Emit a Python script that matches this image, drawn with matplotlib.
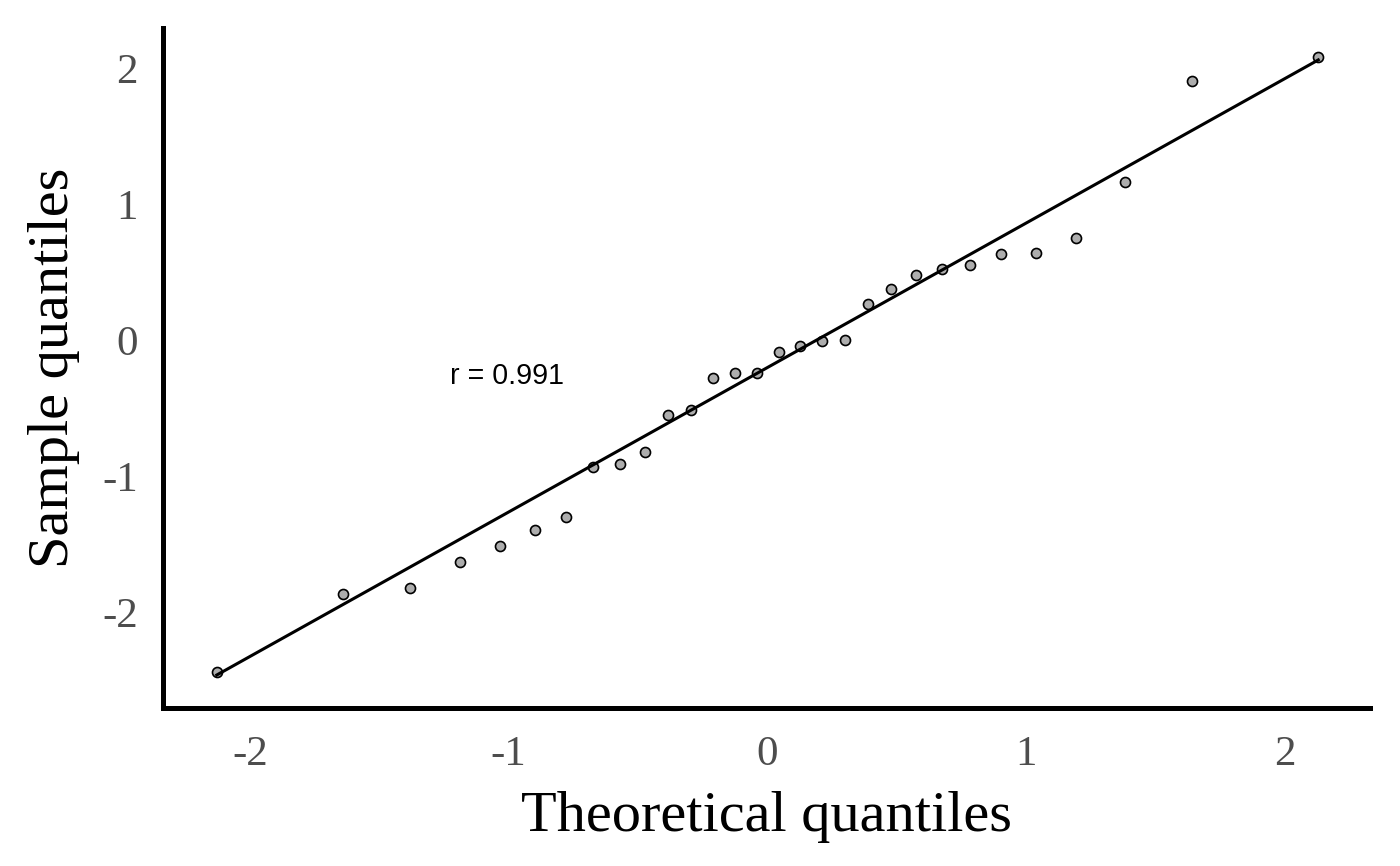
"""
Q-Q plot of sample quantiles against theoretical normal quantiles.
"""

import matplotlib
matplotlib.use("Agg")
import matplotlib.pyplot as plt
import numpy as np

# values
theoretical = [
    -2.128, -1.641, -1.382, -1.188, -1.034, -0.899, -0.779, -0.674,
    -0.570, -0.473, -0.385, -0.296, -0.211, -0.126, -0.041, 0.044,
    0.126, 0.211, 0.300, 0.389, 0.477, 0.574, 0.675, 0.783,
    0.902, 1.038, 1.192, 1.382, 1.641, 2.128,
]
sample = [
    -2.44, -1.868, -1.824, -1.632, -1.515, -1.397, -1.301, -0.934,
    -0.912, -0.824, -0.551, -0.515, -0.279, -0.243, -0.243, -0.088,
    -0.044, -0.007, 0.0, 0.265, 0.375, 0.478, 0.522, 0.551,
    0.632, 0.640, 0.750, 1.162, 1.904, 2.081,
]
# fitted reference line
fit_slope = 1.0625
fit_intercept = -0.202

x_ticks = [-2, -1, 0, 1, 2]
y_ticks = [-2, -1, 0, 1, 2]
r_label = "r = 0.991"

SERIF = ["Liberation Serif", "DejaVu Serif"]

plt.rcParams["axes.unicode_minus"] = False


def main():

    x = np.array(theoretical)
    y = np.array(sample)

    fig = plt.figure(figsize=(7, 4.33), dpi=200)
    ax = fig.add_axes([0.1164, 0.1824, 0.8622, 0.7853])

    #
    # points
    #

    ax.scatter(
        x,
        y,
        s=13,
        c="#adadad",
        edgecolors="black",
        linewidths=0.6,
        zorder=2,
    )

    #
    # fit line
    #

    line_x = np.array([x.min(), x.max()])
    ax.plot(
        line_x,
        fit_slope * line_x + fit_intercept,
        color="black",
        lw=1.1,
        zorder=3,
    )

    ax.text(
        -1.225,
        -0.265,
        r_label,
        fontsize=10.3,
        family=["Liberation Sans", "DejaVu Sans"],
        va="center",
        ha="left",
    )

    ax.set_xlim(-2.336, 2.328)
    ax.set_ylim(-2.706, 2.294)

    ax.set_xticks(x_ticks)
    ax.set_yticks(y_ticks)
    ax.set_xticklabels([str(t) for t in x_ticks], family=SERIF)
    ax.set_yticklabels([str(t) for t in y_ticks], family=SERIF)
    ax.tick_params(length=0, labelsize=15.5, labelcolor="#4d4d4d")
    ax.tick_params(axis="x", pad=10)
    ax.tick_params(axis="y", pad=9)

    for side in ("top", "right"):
        ax.spines[side].set_visible(False)
    for side in ("left", "bottom"):
        ax.spines[side].set_linewidth(1.8)

    ax.set_xlabel("Theoretical quantiles", family=SERIF, fontsize=21, labelpad=6)
    ax.set_ylabel("Sample quantiles", family=SERIF, fontsize=21, labelpad=8)

    fig.savefig("out.png", dpi=200)
    plt.close(fig)


if __name__ == "__main__":

    main()
